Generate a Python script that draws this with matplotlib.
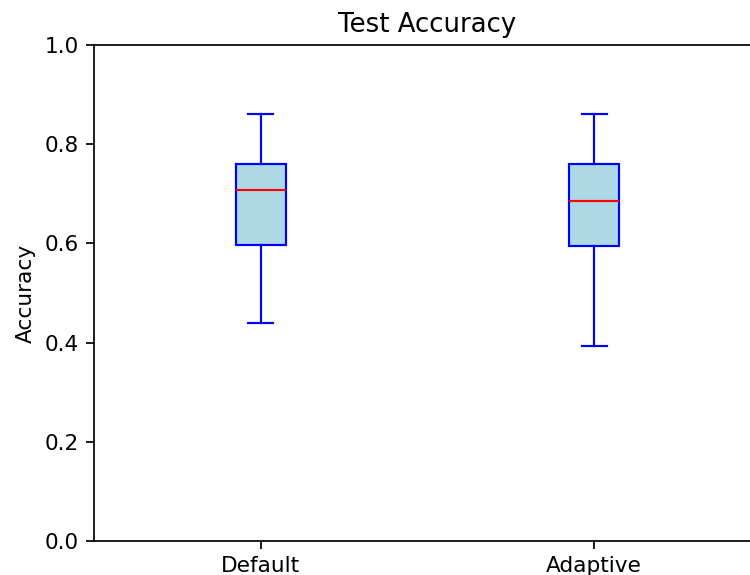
import matplotlib
matplotlib.use("Agg")
import matplotlib.pyplot as plt

labels = ["Default", "Adaptive"]
whislo = [0.440, 0.393]
q1 = [0.597, 0.595]
med = [0.708, 0.685]
q3 = [0.760, 0.760]
whishi = [0.861, 0.861]

stats = [dict(label=l, whislo=a, q1=b, med=c, q3=d, whishi=e, fliers=[])
         for l, a, b, c, d, e in zip(labels, whislo, q1, med, q3, whishi)]

s = 1.56
fig = plt.figure(figsize=(7.5, 5.75), dpi=100)
ax = fig.add_axes([94/750, 34/575, 667/750, 496/575])
lw = 1.0 * s
ax.bxp(stats, widths=0.15, patch_artist=True,
       boxprops=dict(facecolor="lightblue", edgecolor="blue", linewidth=lw),
       whiskerprops=dict(color="blue", linewidth=lw),
       capprops=dict(color="blue", linewidth=lw),
       medianprops=dict(color="red", linewidth=lw))
ax.set_xlim(0.5, 2.5)
ax.set_ylim(0, 1.0)
ax.set_title("Test Accuracy", fontsize=12 * s, pad=6 * s)
ax.set_ylabel("Accuracy", fontsize=10 * s, labelpad=4 * s)
ax.tick_params(labelsize=10 * s, length=3.5 * s, width=0.8 * s, pad=3.5 * s)
for sp in ax.spines.values():
    sp.set_linewidth(0.8 * s)
fig.savefig("out.png", dpi=100)
